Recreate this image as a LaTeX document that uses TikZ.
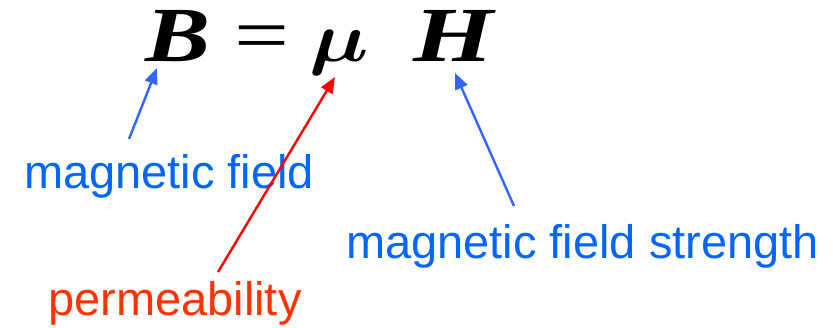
\documentclass[tikz,border=0pt]{standalone}
\usepackage{amsmath}
\usepackage{fontspec}
\setmainfont{Liberation Serif}
\newfontfamily\labelfont{Liberation Sans}
\usepackage{tikz}
\usetikzlibrary{arrows.meta}
\definecolor{labelblue}{RGB}{0,102,255}
\definecolor{arrowblue}{RGB}{51,102,255}
\definecolor{labelred}{RGB}{255,51,0}
\definecolor{arrowred}{RGB}{255,0,0}
\newcommand{\wide}[2][1.25]{\scalebox{#1}[1]{#2}}

\begin{document}
\begin{tikzpicture}[x=1pt, y=-1pt,
    sym/.style={anchor=base west, inner sep=0pt, font=\fontsize{78}{84}\selectfont},
    lbl/.style={anchor=base west, inner sep=0pt, font=\labelfont\fontsize{47}{54}\selectfont},
    pointer/.style={line width=2.4pt, -{Triangle[length=16pt, width=13pt]}}]
  \useasboundingbox (0, 0) rectangle (833, 327);
  % the equation
  \node[sym] (B) at (145, 61) {\wide{\bfseries\itshape B}};
  \node[sym] (eq) at (234, 61) {\wide[1.25]{=}};
  \node[sym, font=\normalsize] (mu) at (309, 61) {\scalebox{8.4}[7]{$\boldsymbol{\mu}$}};
  \node[sym] (H) at (413, 61) {\wide[1.32]{\bfseries\itshape H}};
  % the labels
  \node[lbl, labelblue] (field) at (24, 188) {magnetic field};
  \node[lbl, labelblue] (strength) at (346, 258) {magnetic field strength};
  \node[lbl, labelred] (perm) at (48, 315) {permeability};
  % arrow ends
  \coordinate (bTail) at (129, 139);
  \coordinate (bTip) at (157, 68);
  \coordinate (muTail) at (218, 272);
  \coordinate (muTip) at (335, 77);
  \coordinate (hTail) at (514, 206);
  \coordinate (hTip) at (455, 73);
  \draw[pointer, arrowblue] (bTail) -- (bTip);
  \draw[pointer, arrowred] (muTail) -- (muTip);
  \draw[pointer, arrowblue] (hTail) -- (hTip);
\end{tikzpicture}
\end{document}
